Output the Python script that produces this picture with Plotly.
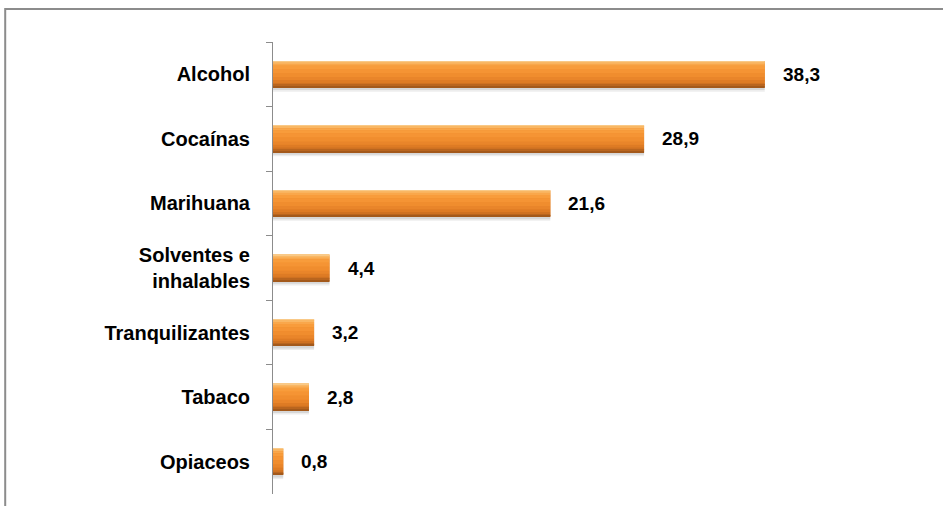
import plotly.graph_objects as go

# Data
categories = ["Alcohol", "Cocaínas", "Marihuana", "Solventes e<br>inhalables",
              "Tranquilizantes", "Tabaco", "Opiaceos"]
values = [38.3, 28.9, 21.6, 4.4, 3.2, 2.8, 0.8]

# Layout geometry (pixels)
W, H = 943, 506
M_L, M_R, M_T, M_B = 273, 27.5, 42, 12
X_MAX = 50
BAR_W = 0.41
FONT = "Liberation Sans, Arial, sans-serif"

# Vertical gradient bands for the bevelled bars: (start, end) as fraction of bar height, colour
bands = [
    (0.00, 1.00, "#EE8A2B"),
    (0.00, 0.05, "#F9C987"),
    (0.05, 0.10, "#F9B764"),
    (0.10, 0.18, "#F9A74B"),
    (0.18, 0.30, "#F89C3B"),
    (0.30, 0.45, "#F59434"),
    (0.45, 0.60, "#F08D2E"),
    (0.60, 0.72, "#E9852A"),
    (0.72, 0.82, "#DE7B24"),
    (0.82, 0.90, "#CF7121"),
    (0.90, 0.96, "#B9651E"),
    (0.96, 1.00, "#A3591B"),
]

fig = go.Figure()

# soft drop shadow under each bar
for dy, alpha in [(0.065, 0.07), (0.04, 0.09)]:
    fig.add_trace(go.Bar(
        x=values, y=categories, orientation="h",
        width=[BAR_W] * len(values),
        offset=[-BAR_W / 2 + dy] * len(values),
        marker=dict(color=f"rgba(0,0,0,{alpha})", line=dict(width=0)),
        hoverinfo="skip", showlegend=False,
    ))

for start, end, color in bands:
    fig.add_trace(go.Bar(
        x=values, y=categories, orientation="h",
        width=[BAR_W * (end - start)] * len(values),
        offset=[-BAR_W / 2 + BAR_W * start] * len(values),
        marker=dict(color=color, line=dict(width=0)),
        hoverinfo="skip", showlegend=False,
    ))

# value labels with decimal comma
for cat, v in zip(categories, values):
    fig.add_annotation(
        x=v, y=cat, xref="x", yref="y",
        text=f"{v:.1f}".replace(".", ","),
        showarrow=False, xanchor="left", yanchor="middle", xshift=16,
        font=dict(family=FONT, size=19, color="#000000", weight="bold"),
    )

# outer frame around the chart
plot_w = W - M_L - M_R
plot_h = H - M_T - M_B


def px_to_paper_x(px):
    return (px - M_L) / plot_w


def px_to_paper_y(py):
    return (H - M_B - py) / plot_h


fig.add_shape(
    type="rect", xref="paper", yref="paper",
    x0=px_to_paper_x(5), x1=px_to_paper_x(W + 10),
    y0=px_to_paper_y(H + 10), y1=px_to_paper_y(9),
    line=dict(color="#8C8C8C", width=2), fillcolor="rgba(0,0,0,0)",
    layer="above",
)

fig.update_layout(
    width=W, height=H,
    margin=dict(l=M_L, r=M_R, t=M_T, b=M_B),
    paper_bgcolor="white", plot_bgcolor="white",
    barmode="overlay",
    showlegend=False,
    xaxis=dict(range=[0, X_MAX], visible=False, fixedrange=True),
    yaxis=dict(
        type="category", categoryorder="array", categoryarray=categories,
        autorange="reversed",
        showline=True, linecolor="#8C8C8C", linewidth=1,
        ticks="outside", ticklen=6, tickcolor="#8C8C8C", tickson="boundaries",
        showgrid=False, zeroline=False,
        tickfont=dict(family=FONT, size=20, color="#000000", weight="bold"),
        ticklabelstandoff=18,
    ),
)

fig.write_html("out.html")
